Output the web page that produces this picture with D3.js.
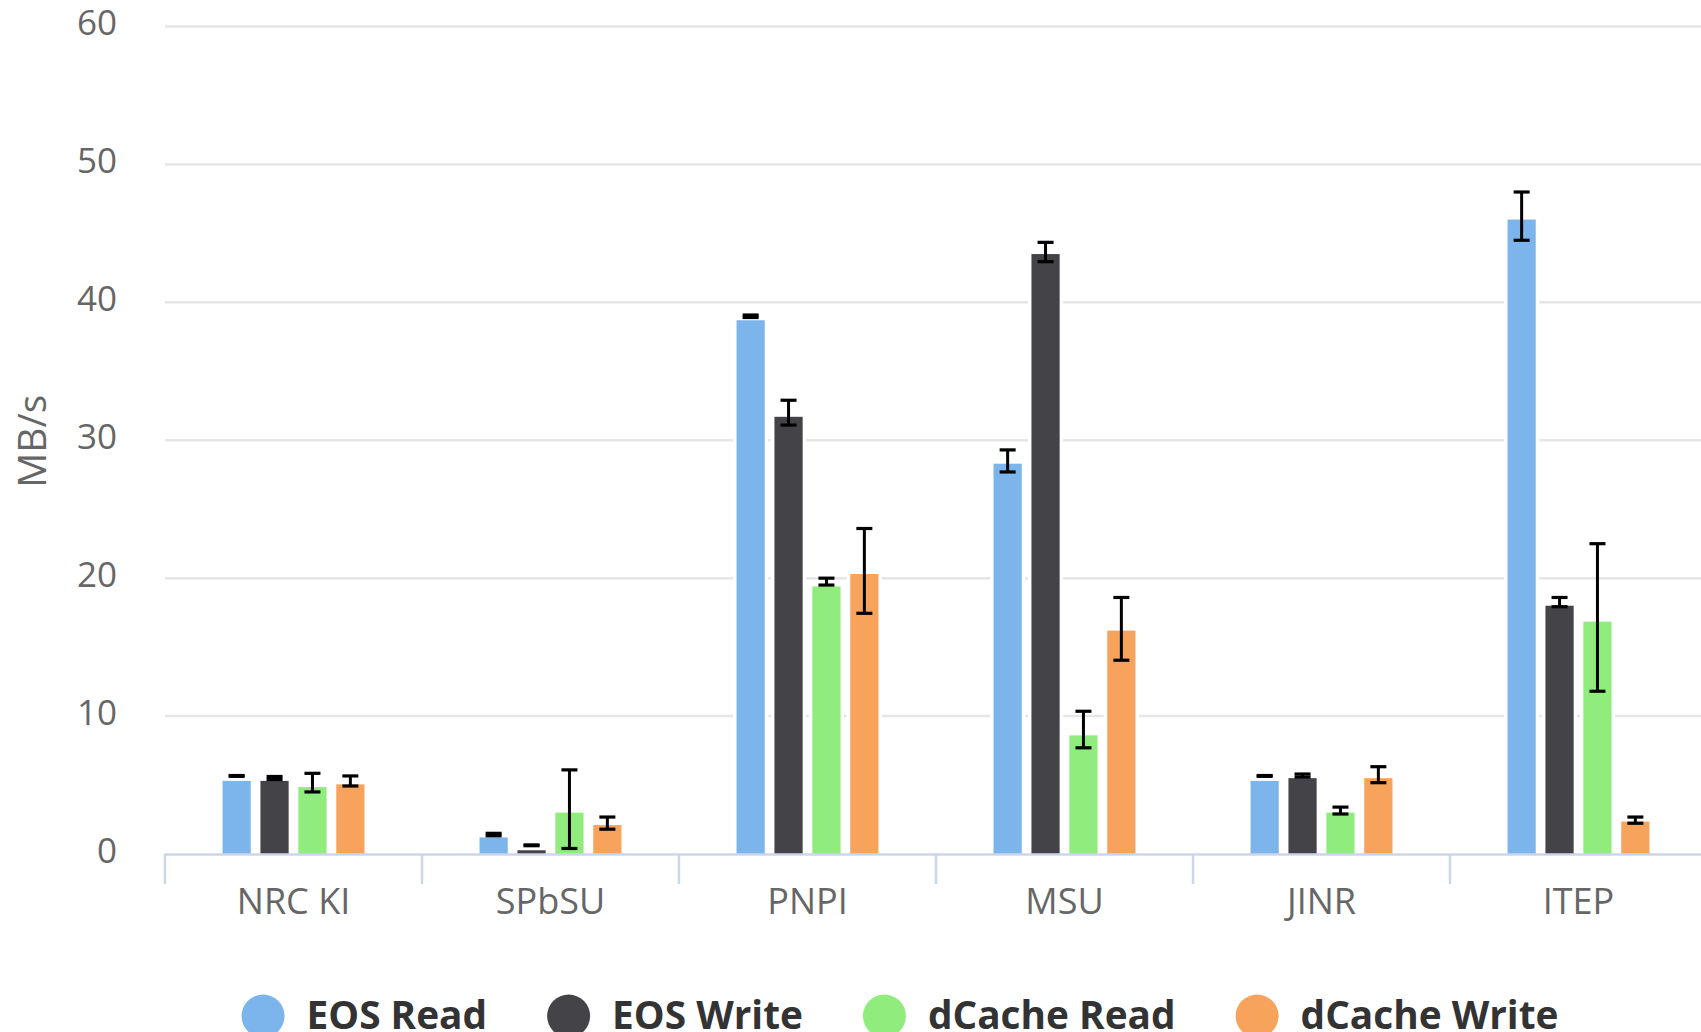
<!DOCTYPE html>
<html>
<head>
<meta charset="utf-8">
<script src="https://cdn.jsdelivr.net/npm/d3@7"></script>
<style>
  html, body { margin: 0; padding: 0; background: #ffffff; overflow: hidden; }
  svg { display: block; font-family: "Open Sans", sans-serif; }
</style>
</head>
<body>
<svg id="chart" width="1701" height="1032"></svg>
<script>
// Sites and storage series
const categories = ["NRC KI", "SPbSU", "PNPI", "MSU", "JINR", "ITEP"];
const seriesNames = ["EOS Read", "EOS Write", "dCache Read", "dCache Write"];
const seriesColors = ["#7cb5ec", "#434348", "#90ed7d", "#f7a35c"];

// Mean throughput, MB/s
const eosRead    = [5.3, 1.2, 38.7, 28.3, 5.3, 46.0];
const eosWrite   = [5.3, 0.27, 31.7, 43.5, 5.5, 18.0];
const dcacheRead = [4.85, 3.0, 19.4, 8.6, 3.0, 16.85];
const dcacheWrite= [5.05, 2.1, 20.3, 16.2, 5.5, 2.35];

// Error ranges (low / high), MB/s
const eosReadLow     = [5.63, 1.32, 38.9, 27.7, 5.63, 44.5];
const eosReadHigh    = [5.69, 1.5, 39.08, 29.3, 5.69, 48.0];
const eosWriteLow    = [5.4, 0.6, 31.1, 42.95, 5.58, 17.93];
const eosWriteHigh   = [5.62, 0.66, 32.9, 44.35, 5.8, 18.6];
const dcacheReadLow  = [4.5, 0.4, 19.5, 7.7, 2.9, 11.8];
const dcacheReadHigh = [5.85, 6.1, 20.0, 10.35, 3.4, 22.5];
const dcacheWriteLow = [4.93, 1.8, 17.45, 14.05, 5.17, 2.23];
const dcacheWriteHigh= [5.66, 2.68, 23.6, 18.6, 6.33, 2.68];

const yTicks = [0, 10, 20, 30, 40, 50, 60];
const yTitle = "MB/s";

const values = [eosRead, eosWrite, dcacheRead, dcacheWrite];
const lows   = [eosReadLow, eosWriteLow, dcacheReadLow, dcacheWriteLow];
const highs  = [eosReadHigh, eosWriteHigh, dcacheReadHigh, dcacheWriteHigh];

const svg = d3.select("#chart");

const plotLeft = 165, bandW = 257, plotTop = 26.5, plotBottom = 854;
const plotRight = plotLeft + bandW * categories.length;

const x0 = d3.scaleBand().domain(categories)
  .range([plotLeft, plotRight]).paddingInner(0.41).paddingOuter(0.205);
const x1 = d3.scaleBand().domain(d3.range(seriesNames.length))
  .range([0, x0.bandwidth()]).paddingInner(0.256).paddingOuter(0.128);
const y = d3.scaleLinear().domain([0, 60]).range([plotBottom, plotTop]);

// Horizontal grid
svg.append("g").selectAll("line")
  .data(yTicks.filter(d => d > 0)).join("line")
  .attr("x1", plotLeft).attr("x2", 1701)
  .attr("y1", d => y(d)).attr("y2", d => y(d))
  .attr("stroke", "#e6e6e6").attr("stroke-width", 2.5);

// Y axis labels
const yAxis = d3.axisLeft(y).tickValues(yTicks).tickSize(0).tickPadding(48);
const gy = svg.append("g").attr("transform", `translate(${plotLeft},0)`).call(yAxis);
gy.select(".domain").remove();
gy.selectAll("text")
  .attr("fill", "#666666").attr("font-size", 35)
  .attr("font-family", "Open Sans").attr("dy", "0.24em");

// Y axis title
svg.append("text")
  .attr("transform", `translate(46,${(plotTop + plotBottom) / 2 + 1}) rotate(-90)`)
  .attr("text-anchor", "middle")
  .attr("fill", "#666666").attr("font-size", 39)
  .text(yTitle);

// Bars, one group per site
const groups = svg.append("g").selectAll("g")
  .data(categories).join("g")
  .attr("transform", d => `translate(${x0(d)},0)`);

const pts = (c, ci) => seriesNames.map((s, si) => ({
  si, v: values[si][ci], lo: lows[si][ci], hi: highs[si][ci]
}));

groups.each(function(c, ci) {
  const g = d3.select(this);
  const data = pts(c, ci);
  // white border around the columns
  g.selectAll("rect.halo").data(data).join("rect")
    .attr("class", "halo")
    .attr("x", d => x1(d.si) - 3.5)
    .attr("width", x1.bandwidth() + 7)
    .attr("y", d => y(d.v) - 3.5)
    .attr("height", d => plotBottom - y(d.v) + 3.5)
    .attr("fill", "#ffffff");
  g.selectAll("rect.bar").data(data).join("rect")
    .attr("class", "bar")
    .attr("x", d => x1(d.si))
    .attr("width", x1.bandwidth())
    .attr("y", d => y(d.v))
    .attr("height", d => plotBottom - y(d.v))
    .attr("fill", d => seriesColors[d.si]);
  // error bars
  const whisker = 16;
  const eb = g.selectAll("g.err").data(data).join("g").attr("class", "err")
    .attr("transform", d => `translate(${x1(d.si) + x1.bandwidth() / 2},0)`);
  eb.append("line")
    .attr("x1", 0).attr("x2", 0)
    .attr("y1", d => y(d.hi)).attr("y2", d => y(d.lo))
    .attr("stroke", "#000").attr("stroke-width", 3);
  eb.append("line")
    .attr("x1", -whisker / 2).attr("x2", whisker / 2)
    .attr("y1", d => y(d.hi)).attr("y2", d => y(d.hi))
    .attr("stroke", "#000").attr("stroke-width", 3.2);
  eb.append("line")
    .attr("x1", -whisker / 2).attr("x2", whisker / 2)
    .attr("y1", d => y(d.lo)).attr("y2", d => y(d.lo))
    .attr("stroke", "#000").attr("stroke-width", 3.2);
});

// X axis line and tick marks at band boundaries
svg.append("line")
  .attr("x1", plotLeft).attr("x2", 1701)
  .attr("y1", plotBottom + 0.5).attr("y2", plotBottom + 0.5)
  .attr("stroke", "#ccd6eb").attr("stroke-width", 2.5);
svg.append("g").selectAll("line")
  .data(d3.range(categories.length + 1)).join("line")
  .attr("x1", i => plotLeft + i * x0.step()).attr("x2", i => plotLeft + i * x0.step())
  .attr("y1", plotBottom).attr("y2", plotBottom + 30)
  .attr("stroke", "#ccd6eb").attr("stroke-width", 2.5);

// Category labels
const xAxis = d3.axisBottom(x0).tickSize(0).tickPadding(0);
const gx = svg.append("g").attr("transform", `translate(0,${plotBottom})`).call(xAxis);
gx.select(".domain").remove();
gx.selectAll("text")
  .attr("fill", "#666666").attr("font-size", 36)
  .attr("font-family", "Open Sans")
  .attr("y", 60).attr("dy", 0);

// Legend
const legend = svg.append("g");
const items = legend.selectAll("g").data(seriesNames).join("g");
items.append("circle").attr("r", 21.5).attr("cx", 21.5).attr("cy", 0)
  .attr("fill", (d, i) => seriesColors[i]);
items.append("text").attr("x", 65).attr("y", 13)
  .attr("font-size", 38.8).attr("font-weight", "bold")
  .attr("fill", "#333333").text(d => d);
let cursor = 0;
const offsets = [];
items.each(function() {
  const w = this.getBBox().width;
  offsets.push(cursor);
  cursor += w + 60;
});
const totalW = cursor - 60;
const startX = 900 - totalW / 2;
items.attr("transform", (d, i) => `translate(${startX + offsets[i]},1016)`);
</script>
</body>
</html>
